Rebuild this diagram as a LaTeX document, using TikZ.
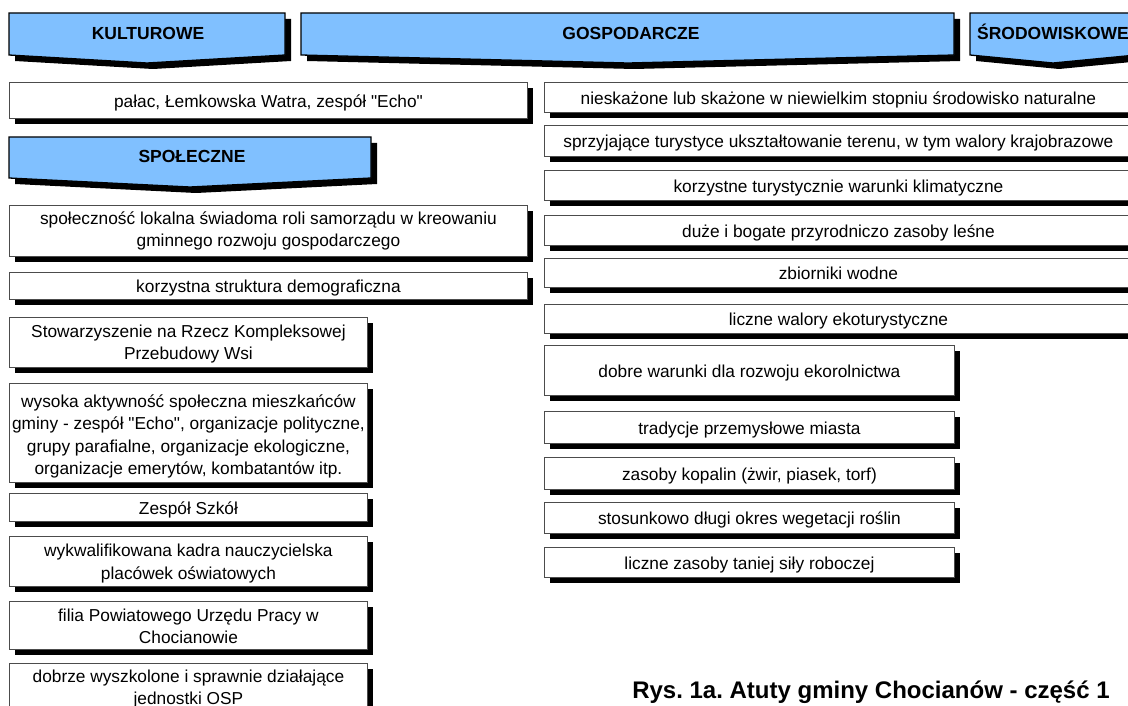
\documentclass[tikz,border=0pt]{standalone}
\usepackage{fontspec}
\setmainfont{Liberation Sans}[Ligatures=TeXOff]
\usetikzlibrary{shadows}
\frenchspacing
\definecolor{bannerblue}{RGB}{128,192,255}
\newcommand{\topstrut}[1]{\rule{0pt}{#1}}
\tikzset{
  shadowed/.style={drop shadow={shadow xshift=6pt, shadow yshift=-6pt, fill=black, opacity=1}},
  box/.style={shadowed, draw=black!70, line width=0.9pt, fill=white, align=center,
    font=\fontsize{17.3}{22.4}\selectfont, inner sep=0pt, anchor=north west},
  one/.style={text height=14pt, text depth=0pt},
  banner/.style={shadowed, draw=black, line width=1.3pt, fill=bannerblue},
  bannertext/.style={font=\bfseries\fontsize{17.5}{20}\selectfont, inner sep=0pt, anchor=base},
}
\begin{document}
\begin{tikzpicture}[x=1pt,y=-1pt]
\useasboundingbox (0,0) rectangle (1128,706);
\clip (0,0) rectangle (1128,706);
\fill[white] (0,0) rectangle (1128,706);

% banners
\path[banner] (9,13) -- (285,13) -- (285,55) -- (147,63) -- (9,55) -- cycle;
\node[bannertext] (kult) at (148,39.5) {KULTUROWE};
\path[banner] (301,13) -- (954,13) -- (954,55) -- (628,63) -- (301,55) -- cycle;
\node[bannertext] (gosp) at (631,39.5) {GOSPODARCZE};
\path[banner] (970,13) -- (1136,13) -- (1136,55) -- (1053,63) -- (970,55) -- cycle;
\node[bannertext] (srod) at (1053,39.5) {ŚRODOWISKOWE};
\path[banner] (9,137) -- (371,137) -- (371,178) -- (190,187) -- (9,178) -- cycle;
\node[bannertext] (spol) at (192,163) {SPOŁECZNE};

% left column
\node[box, one, minimum width=518pt, minimum height=36pt] (l1) at (9,82) {pałac, Łemkowska Watra, zespół "Echo"};
\node[box, minimum width=518pt, minimum height=51pt] (l2) at (9,205) {społeczność lokalna świadoma roli samorządu w kreowaniu\\gminnego rozwoju gospodarczego};
\node[box, one, minimum width=518pt, minimum height=27pt] (l3) at (9,272) {korzystna struktura demograficzna};
\node[box, minimum width=358pt, minimum height=50pt] (l4) at (9,317) {\topstrut{16pt}Stowarzyszenie na Rzecz Kompleksowej\\Przebudowy Wsi};
\node[box, minimum width=358pt, minimum height=99pt] (l5) at (9,383) {\topstrut{20pt}wysoka aktywność społeczna mieszkańców\\gminy - zespół "Echo", organizacje polityczne,\\grupy parafialne, organizacje ekologiczne,\\organizacje emerytów, kombatantów itp.};
\node[box, one, minimum width=358pt, minimum height=28pt] (l6) at (9,493) {Zespół Szkół};
\node[box, minimum width=358pt, minimum height=50pt] (l7) at (9,536) {\topstrut{17pt}wykwalifikowana kadra nauczycielska\\placówek oświatowych};
\node[box, minimum width=358pt, minimum height=48pt] (l8) at (9,601) {\topstrut{14pt}filia Powiatowego Urzędu Pracy w\\Chocianowie};
\node[box, minimum width=358pt, minimum height=50pt] (l9) at (9,663) {\topstrut{14pt}dobrze wyszkolone i sprawnie działające\\jednostki OSP};

% right column
\node[box, one, minimum width=588pt, minimum height=30pt] (r1) at (544,82) {nieskażone lub skażone w niewielkim stopniu środowisko naturalne};
\node[box, one, minimum width=588pt, minimum height=31pt] (r2) at (544,125) {sprzyjające turystyce ukształtowanie terenu, w tym walory krajobrazowe};
\node[box, one, minimum width=588pt, minimum height=30pt] (r3) at (544,170) {korzystne turystycznie warunki klimatyczne};
\node[box, one, minimum width=588pt, minimum height=30pt] (r4) at (544,215) {duże i bogate przyrodniczo zasoby leśne};
\node[box, one, minimum width=588pt, minimum height=29pt] (r5) at (544,258) {zbiorniki wodne};
\node[box, one, minimum width=588pt, minimum height=29pt] (r6) at (544,304) {liczne walory ekoturystyczne};
\node[box, one, minimum width=410pt, minimum height=50pt] (r7) at (544,345) {dobre warunki dla rozwoju ekorolnictwa};
\node[box, one, minimum width=410pt, minimum height=32pt] (r8) at (544,411) {tradycje przemysłowe miasta};
\node[box, one, minimum width=410pt, minimum height=32pt] (r9) at (544,457) {zasoby kopalin (żwir, piasek, torf)};
\node[box, one, minimum width=410pt, minimum height=31pt] (r10) at (544,502) {stosunkowo długi okres wegetacji roślin};
\node[box, one, minimum width=410pt, minimum height=30pt] (r11) at (544,547) {liczne zasoby taniej siły roboczej};

% caption
\node[font=\bfseries\fontsize{24}{28}\selectfont, inner sep=0pt, anchor=base] (cap) at (871,698) {Rys. 1a. Atuty gminy Chocianów - część 1};
\end{tikzpicture}
\end{document}
